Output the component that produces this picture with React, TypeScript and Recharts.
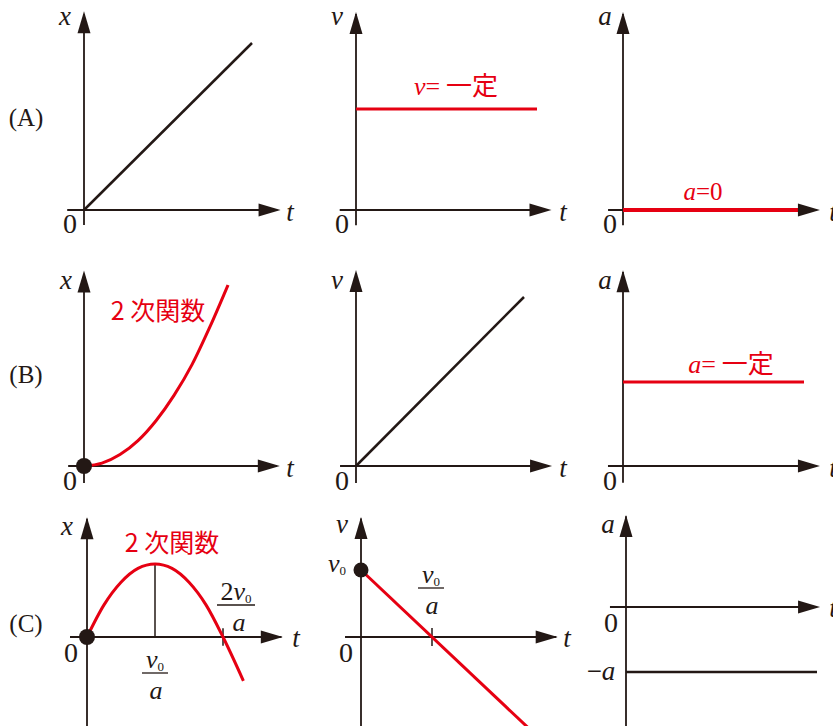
import { ComposedChart, Line, XAxis, YAxis, ReferenceLine, ReferenceDot } from 'recharts'

const INK = '#231815'
const RED = '#e60012'
const SERIF = '"Liberation Serif", "Times New Roman", serif'
const GOTHIC = '"Noto Sans CJK JP", "Noto Sans", sans-serif'

// (A) uniform motion
const tA = [0, 1]
const xA = [0, 1]
const vA = [1, 1]
const aA = [0, 0]

// (B) constant acceleration from rest
const tB = [0, 0.125, 0.25, 0.375, 0.5, 0.625, 0.75, 0.875, 1]
const xB = [0, 0.016, 0.063, 0.14, 0.25, 0.39, 0.56, 0.77, 1]
const tBv = [0, 1]
const vB = [0, 1]
const aB = [1, 1]

// (C) initial speed v0, acceleration -a  (t in units of v0/a)
const tC = [0, 0.25, 0.5, 0.75, 1, 1.25, 1.5, 1.75, 2, 2.3]
const xC = [0, 0.44, 0.75, 0.94, 1, 0.94, 0.75, 0.44, 0, -0.6]
const tCv = [0, 2.35]
const vC = [1, -1.35]
const tCa = [0, 1]
const aC = [-1, -1]

type Pt = { t: number; y: number }
const pts = (ts: number[], ys: number[]): Pt[] => ts.map((t, i) => ({ t, y: ys[i] }))

type Series = { data: Pt[]; color: string; width: number; curve?: 'linear' | 'monotone' }
type Mark = { from: [number, number]; to: [number, number] }
type PanelCfg = {
  box: [number, number, number, number]
  origin: [number, number]
  unit: [number, number]
  tAxis: [number, number]
  yAxis: [number, number]
  series: Series[]
  dots?: { t: number; y: number; r: number }[]
  marks?: Mark[]
}

const panels: PanelCfg[] = [
  { box: [40, 0, 260, 250], origin: [84, 210], unit: [168, 167], tAxis: [-0.1, 1.17], yAxis: [-0.09, 1.19],
    series: [{ data: pts(tA, xA), color: INK, width: 2.5 }] },
  { box: [320, 0, 260, 250], origin: [356, 210], unit: [181, 101], tAxis: [-0.09, 1.08], yAxis: [-0.15, 1.96],
    series: [{ data: pts(tA, vA), color: RED, width: 3 }] },
  { box: [590, 0, 243, 250], origin: [623, 210], unit: [180, 101], tAxis: [-0.083, 1.094], yAxis: [-0.15, 1.96],
    series: [{ data: pts(tA, aA), color: RED, width: 4 }] },

  { box: [40, 250, 260, 250], origin: [84, 466], unit: [144, 181], tAxis: [-0.11, 1.36], yAxis: [-0.094, 1.08],
    series: [{ data: pts(tB, xB), color: RED, width: 3, curve: 'monotone' }], dots: [{ t: 0, y: 0, r: 8 }] },
  { box: [320, 250, 260, 250], origin: [356, 466], unit: [168, 169], tAxis: [-0.095, 1.167], yAxis: [-0.1, 1.16],
    series: [{ data: pts(tBv, vB), color: INK, width: 2.5 }] },
  { box: [590, 250, 243, 250], origin: [623, 466], unit: [181, 84], tAxis: [-0.083, 1.088], yAxis: [-0.2, 2.33],
    series: [{ data: pts(tBv, aB), color: RED, width: 3 }] },

  { box: [40, 500, 260, 226], origin: [87, 637], unit: [68, 73], tAxis: [-0.25, 2.88], yAxis: [-1.25, 1.64],
    series: [{ data: pts(tC, xC), color: RED, width: 3, curve: 'monotone' }], dots: [{ t: 0, y: 0, r: 8 }],
    marks: [{ from: [1, 0], to: [1, 1] }, { from: [2, -0.12], to: [2, 0.12] }] },
  { box: [320, 500, 260, 226], origin: [361, 637], unit: [71, 67], tAxis: [-0.225, 2.77], yAxis: [-1.4, 1.79],
    series: [{ data: pts(tCv, vC), color: RED, width: 3 }], dots: [{ t: 0, y: 1, r: 7.5 }],
    marks: [{ from: [1, -0.135], to: [1, 0.135] }] },
  { box: [590, 500, 243, 226], origin: [626, 607], unit: [191, 65], tAxis: [-0.084, 1.016], yAxis: [-1.9, 1.415],
    series: [{ data: pts(tCa, aC), color: INK, width: 2.5 }] },
]

const ARROW_LEN = 22
const ARROW_HALF = 6.5

const arrowRight = (p: any) => (
  <polygon points={`${p.cx},${p.cy} ${p.cx - ARROW_LEN},${p.cy - ARROW_HALF} ${p.cx - ARROW_LEN},${p.cy + ARROW_HALF}`} fill={INK} />
)
const arrowUp = (p: any) => (
  <polygon points={`${p.cx},${p.cy} ${p.cx - ARROW_HALF},${p.cy + ARROW_LEN} ${p.cx + ARROW_HALF},${p.cy + ARROW_LEN}`} fill={INK} />
)

function Panel({ p }: { p: PanelCfg }) {
  const [l, top, w, h] = p.box
  const [ox, oy] = p.origin
  const [sx, sy] = p.unit
  const tDom = [(l - ox) / sx, (l + w - ox) / sx]
  const yDom = [(oy - top - h) / sy, (oy - top) / sy]
  return (
    <div style={{ position: 'absolute', left: l, top }}>
      <ComposedChart width={w} height={h} margin={{ top: 0, right: 0, bottom: 0, left: 0 }}>
        <XAxis type="number" dataKey="t" domain={tDom} hide allowDataOverflow />
        <YAxis type="number" dataKey="y" domain={yDom} hide allowDataOverflow />
        <ReferenceLine segment={[{ x: p.tAxis[0], y: 0 }, { x: p.tAxis[1] - 0.02, y: 0 }]} stroke={INK} strokeWidth={1.8} ifOverflow="visible" />
        <ReferenceLine segment={[{ x: 0, y: p.yAxis[0] }, { x: 0, y: p.yAxis[1] - 0.02 }]} stroke={INK} strokeWidth={1.8} ifOverflow="visible" />
        <ReferenceDot x={p.tAxis[1]} y={0} ifOverflow="visible" shape={arrowRight} />
        <ReferenceDot x={0} y={p.yAxis[1]} ifOverflow="visible" shape={arrowUp} />
        {(p.marks ?? []).map((m, i) => (
          <ReferenceLine key={`m${i}`} segment={[{ x: m.from[0], y: m.from[1] }, { x: m.to[0], y: m.to[1] }]} stroke={INK} strokeWidth={1.5} ifOverflow="visible" />
        ))}
        {(p.dots ?? []).map((d, i) => (
          <ReferenceDot key={`d${i}`} x={d.t} y={d.y} r={d.r} fill={INK} stroke="none" ifOverflow="visible" />
        ))}
        {p.series.map((s, i) => (
          <Line key={`s${i}`} data={s.data} dataKey="y" type={s.curve ?? 'linear'} stroke={s.color} strokeWidth={s.width}
            dot={false} activeDot={false} isAnimationActive={false} />
        ))}
      </ComposedChart>
    </div>
  )
}

const It = ({ x, y, children, size = 27, fill = INK }: any) => (
  <text x={x} y={y} textAnchor="middle" fontFamily={SERIF} fontStyle="italic" fontSize={size} fill={fill}>{children}</text>
)
const Up = ({ x, y, children, size = 27, fill = INK }: any) => (
  <text x={x} y={y} textAnchor="middle" fontFamily={SERIF} fontSize={size} fill={fill}>{children}</text>
)
const V0 = ({ x, y }: any) => (
  <text x={x} y={y} textAnchor="middle" fontFamily={SERIF} fontSize={26} fill={INK}>
    <tspan fontStyle="italic">v</tspan><tspan fontSize={13} dy={3}>0</tspan>
  </text>
)
const Frac = ({ x, y, w, two }: any) => (
  <g>
    <text x={x} y={y} textAnchor="middle" fontFamily={SERIF} fontSize={26} fill={INK}>
      {two ? <tspan>2</tspan> : null}<tspan fontStyle="italic">v</tspan><tspan fontSize={13} dy={3}>0</tspan>
    </text>
    <line x1={x - w / 2} x2={x + w / 2} y1={y + 5} y2={y + 5} stroke={INK} strokeWidth={1.3} />
    <It x={x + (two ? 3 : 1)} y={y + 31} size={26}>a</It>
  </g>
)

function Labels() {
  return (
    <svg width={833} height={726} style={{ position: 'absolute', left: 0, top: 0, pointerEvents: 'none' }}>
      <Up x={26} y={126} size={25}>(A)</Up>
      <Up x={26} y={383} size={25}>(B)</Up>
      <Up x={26} y={632} size={25}>(C)</Up>

      <It x={65} y={25}>x</It>
      <It x={290} y={221}>t</It>
      <Up x={70} y={233} size={28}>0</Up>
      <It x={337} y={25}>v</It>
      <It x={563} y={221}>t</It>
      <Up x={342} y={233} size={28}>0</Up>
      <It x={605} y={25}>a</It>
      <It x={833} y={221}>t</It>
      <Up x={610} y={233} size={28}>0</Up>

      <It x={66} y={289}>x</It>
      <It x={290} y={477}>t</It>
      <Up x={70} y={490} size={28}>0</Up>
      <It x={337} y={289}>v</It>
      <It x={563} y={477}>t</It>
      <Up x={342} y={490} size={28}>0</Up>
      <It x={605} y={289}>a</It>
      <It x={833} y={477}>t</It>
      <Up x={610} y={490} size={28}>0</Up>

      <It x={67} y={535}>x</It>
      <It x={296} y={647}>t</It>
      <Up x={71} y={662} size={28}>0</Up>
      <It x={342} y={533}>v</It>
      <It x={567} y={647}>t</It>
      <Up x={346} y={662} size={28}>0</Up>
      <It x={608} y={533}>a</It>
      <It x={833} y={617}>t</It>
      <Up x={611} y={632} size={28}>0</Up>
      <text x={601} y={680} textAnchor="middle" fontFamily={SERIF} fontSize={27} fill={INK}>
        <tspan>−</tspan><tspan fontStyle="italic">a</tspan>
      </text>

      <text x={456} y={95} textAnchor="middle" fontSize={26} fill={RED}>
        <tspan fontFamily={SERIF} fontStyle="italic">v</tspan><tspan fontFamily={SERIF}>=</tspan><tspan fontFamily={GOTHIC}> 一定</tspan>
      </text>
      <text x={703} y={200} textAnchor="middle" fontSize={25} fill={RED} fontFamily={SERIF}>
        <tspan fontStyle="italic">a</tspan><tspan>=0</tspan>
      </text>
      <text x={731} y={373} textAnchor="middle" fontSize={26} fill={RED}>
        <tspan fontFamily={SERIF} fontStyle="italic">a</tspan><tspan fontFamily={SERIF}>=</tspan><tspan fontFamily={GOTHIC}> 一定</tspan>
      </text>
      <text x={158} y={320} textAnchor="middle" fontSize={25} fill={RED} fontFamily={GOTHIC}>2 次関数</text>
      <text x={172} y={552} textAnchor="middle" fontSize={25} fill={RED} fontFamily={GOTHIC}>2 次関数</text>

      <Frac x={236} y={600} w={38} two />
      <Frac x={155} y={668} w={26} />
      <Frac x={431} y={583} w={26} />
      <V0 x={337} y={572} />
    </svg>
  )
}

export default function App() {
  return (
    <div style={{ position: 'relative', width: 833, height: 726, background: '#fff', overflow: 'hidden' }}>
      <style>{'body{margin:0}'}</style>
      {panels.map((p, i) => <Panel key={i} p={p} />)}
      <Labels />
    </div>
  )
}
